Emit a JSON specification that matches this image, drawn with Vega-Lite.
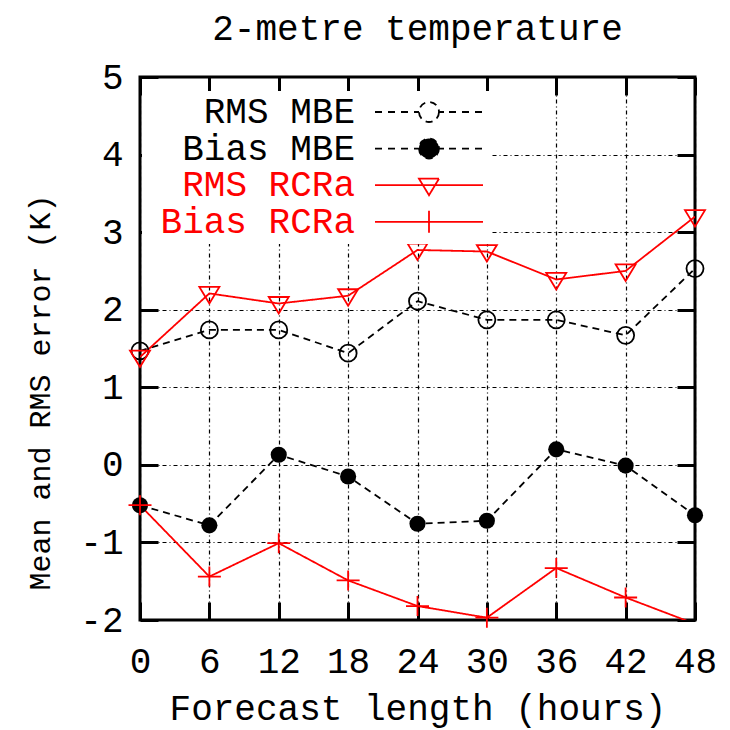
{
  "$schema": "https://vega.github.io/schema/vega-lite/v6.json",
  "width": 555,
  "height": 543,
  "autosize": {"type": "none"},
  "padding": {"left": 140, "top": 77, "right": 35, "bottom": 110},
  "background": "white",
  "title": {"text": "2-metre temperature", "font": "Liberation Mono", "fontSize": 36, "fontWeight": "normal", "color": "black", "frame": "group", "anchor": "middle", "baseline": "bottom", "offset": -25},
  "config": {
    "font": "Liberation Mono",
    "view": {"stroke": "black", "strokeWidth": 3},
    "axis": {
      "labelFont": "Liberation Mono", "labelFontSize": 36, "labelColor": "black",
      "titleFont": "Liberation Mono", "titleFontSize": 36, "titleFontWeight": "normal", "titleColor": "black",
      "tickColor": "black", "tickWidth": 3, "tickSize": -18,
      "domain": false, "labelFlush": false, "labelOverlap": false,
      "gridColor": "black", "gridDash": [4, 3, 1, 3], "gridWidth": 1.2, "gridOpacity": 1
    }
  },
  "data": {"values": [
    {"h": 0, "series": "RMS MBE", "value": 1.47},
    {"h": 6, "series": "RMS MBE", "value": 1.74},
    {"h": 12, "series": "RMS MBE", "value": 1.74},
    {"h": 18, "series": "RMS MBE", "value": 1.44},
    {"h": 24, "series": "RMS MBE", "value": 2.11},
    {"h": 30, "series": "RMS MBE", "value": 1.87},
    {"h": 36, "series": "RMS MBE", "value": 1.87},
    {"h": 42, "series": "RMS MBE", "value": 1.67},
    {"h": 48, "series": "RMS MBE", "value": 2.53},
    {"h": 0, "series": "Bias MBE", "value": -0.52},
    {"h": 6, "series": "Bias MBE", "value": -0.78},
    {"h": 12, "series": "Bias MBE", "value": 0.13},
    {"h": 18, "series": "Bias MBE", "value": -0.15},
    {"h": 24, "series": "Bias MBE", "value": -0.76},
    {"h": 30, "series": "Bias MBE", "value": -0.72},
    {"h": 36, "series": "Bias MBE", "value": 0.2},
    {"h": 42, "series": "Bias MBE", "value": -0.01},
    {"h": 48, "series": "Bias MBE", "value": -0.65},
    {"h": 0, "series": "RMS RCRa", "value": 1.39},
    {"h": 6, "series": "RMS RCRa", "value": 2.21},
    {"h": 12, "series": "RMS RCRa", "value": 2.08},
    {"h": 18, "series": "RMS RCRa", "value": 2.18},
    {"h": 24, "series": "RMS RCRa", "value": 2.77},
    {"h": 30, "series": "RMS RCRa", "value": 2.75},
    {"h": 36, "series": "RMS RCRa", "value": 2.39},
    {"h": 42, "series": "RMS RCRa", "value": 2.5},
    {"h": 48, "series": "RMS RCRa", "value": 3.2},
    {"h": 0, "series": "Bias RCRa", "value": -0.52},
    {"h": 6, "series": "Bias RCRa", "value": -1.44},
    {"h": 12, "series": "Bias RCRa", "value": -1.01},
    {"h": 18, "series": "Bias RCRa", "value": -1.49},
    {"h": 24, "series": "Bias RCRa", "value": -1.82},
    {"h": 30, "series": "Bias RCRa", "value": -1.97},
    {"h": 36, "series": "Bias RCRa", "value": -1.33},
    {"h": 42, "series": "Bias RCRa", "value": -1.71},
    {"h": 48, "series": "Bias RCRa", "value": -2.05}
  ]},
  "layer": [
    {
      "mark": {"type": "line", "strokeWidth": 1.8, "clip": true},
      "encoding": {
        "x": {"field": "h", "type": "quantitative", "scale": {"domain": [0, 48], "nice": false},
          "axis": {"orient": "bottom", "values": [0, 6, 12, 18, 24, 30, 36, 42, 48], "grid": true, "labelPadding": 42, "title": "Forecast length (hours)", "titlePadding": 12}},
        "y": {"field": "value", "type": "quantitative", "scale": {"domain": [-2, 5], "nice": false},
          "axis": {"orient": "left", "values": [-2, -1, 0, 1, 2, 3, 4, 5], "grid": true, "labelPadding": 35, "labelExpr": "replace(datum.label, '\u2212', '-')", "title": "Mean and RMS error (K)", "titleFontSize": 30, "titleAngle": -90, "titleAlign": "center", "titleBaseline": "middle", "titleX": -100, "titleY": 315}},
        "color": {"field": "series", "type": "nominal",
          "scale": {"domain": ["RMS MBE", "Bias MBE", "RMS RCRa", "Bias RCRa"], "range": ["black", "black", "red", "red"]},
          "legend": {
            "title": null, "orient": "none", "legendX": 2, "legendY": 14,
            "fillColor": "white", "padding": 3, "strokeColor": "white", "strokeWidth": 0,
            "symbolSize": 400, "symbolOffset": 0, "symbolStrokeWidth": 1.8,
            "labelFont": "Liberation Mono", "labelFontSize": 36, "labelAlign": "right", "labelBaseline": "middle",
            "labelOffset": 174, "labelLimit": 400, "rowPadding": 0.6,
            "encode": {
              "symbols": {"update": {
                "shape": {"signal": "(datum.value == 'RMS MBE' || datum.value == 'Bias MBE') ? 'M21.2,0H22M22.5,0H23.3M23.8,0H24.6M25.1,0H25.6M27.6,0H28.1M28.6,0H29.4M29.9,0H30.7M31.2,0H32M27.6,0C27.6,0.5523 27.1523,1 26.6,1C26.0477,1 25.6,0.5523 25.6,0C25.6,-0.5523 26.0477,-1 26.6,-1C27.1523,-1 27.6,-0.5523 27.6,0Z' : datum.value == 'RMS RCRa' ? 'M21.2,0H32M25.6,-0.65L27.6,-0.65L26.6,1Z' : 'M21.2,0H32M26.6,-1.1V1.1'"},
                "fill": {"signal": "datum.value == 'Bias MBE' ? 'black' : 'transparent'"},
                "stroke": {"signal": "(datum.value == 'RMS RCRa' || datum.value == 'Bias RCRa') ? 'red' : 'black'"},
                "strokeDash": {"value": [1, 0]},
                "strokeWidth": {"value": 1.8},
                "opacity": {"value": 1}
              }},
              "labels": {"update": {
                "fill": {"signal": "(datum.value == 'RMS RCRa' || datum.value == 'Bias RCRa') ? 'red' : 'black'"}
              }}
            }
          }},
        "strokeDash": {"field": "series", "type": "nominal",
          "scale": {"domain": ["RMS MBE", "Bias MBE", "RMS RCRa", "Bias RCRa"], "range": [[7, 5], [7, 5], [1, 0], [1, 0]]},
          "legend": null}
      }
    },
    {
      "transform": [{"filter": "datum.series == 'RMS MBE'"}],
      "mark": {"type": "point", "shape": "circle", "filled": false, "size": 290, "stroke": "black", "strokeWidth": 1.8, "opacity": 1},
      "encoding": {
        "x": {"field": "h", "type": "quantitative", "scale": {"domain": [0, 48], "nice": false},
          "axis": {"orient": "top", "values": [0, 6, 12, 18, 24, 30, 36, 42, 48], "labels": false, "grid": false, "title": null}},
        "y": {"field": "value", "type": "quantitative", "scale": {"domain": [-2, 5], "nice": false},
          "axis": {"orient": "right", "values": [-2, -1, 0, 1, 2, 3, 4, 5], "labels": false, "grid": false, "title": null}}
      }
    },
    {
      "transform": [{"filter": "datum.series == 'Bias MBE'"}],
      "mark": {"type": "point", "shape": "circle", "filled": true, "size": 260, "color": "black", "opacity": 1},
      "encoding": {
        "x": {"field": "h", "type": "quantitative", "scale": {"domain": [0, 48], "nice": false}, "axis": null},
        "y": {"field": "value", "type": "quantitative", "scale": {"domain": [-2, 5], "nice": false}, "axis": null}
      }
    },
    {
      "transform": [{"filter": "datum.series == 'RMS RCRa'"}],
      "mark": {"type": "point", "shape": "M-1,-0.65L1,-0.65L0,1Z", "filled": false, "size": 400, "stroke": "red", "strokeWidth": 1.8, "opacity": 1},
      "encoding": {
        "x": {"field": "h", "type": "quantitative", "scale": {"domain": [0, 48], "nice": false}, "axis": null},
        "y": {"field": "value", "type": "quantitative", "scale": {"domain": [-2, 5], "nice": false}, "axis": null}
      }
    },
    {
      "transform": [{"filter": "datum.series == 'Bias RCRa' && datum.value >= -2"}],
      "mark": {"type": "point", "shape": "M-1.15,0H1.15M0,-1V1", "filled": false, "size": 400, "stroke": "red", "strokeWidth": 1.8, "opacity": 1},
      "encoding": {
        "x": {"field": "h", "type": "quantitative", "scale": {"domain": [0, 48], "nice": false}, "axis": null},
        "y": {"field": "value", "type": "quantitative", "scale": {"domain": [-2, 5], "nice": false}, "axis": null}
      }
    }
  ],
  "resolve": {"axis": {"x": "independent", "y": "independent"}}
}
